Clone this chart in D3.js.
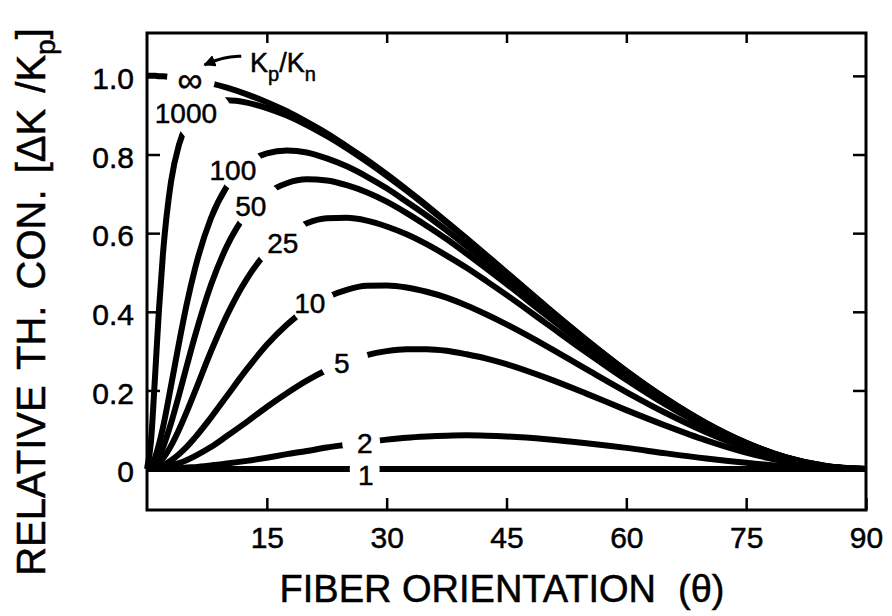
<!DOCTYPE html>
<html>
<head>
<meta charset="utf-8">
<script src="https://cdn.jsdelivr.net/npm/d3@7"></script>
<style>
  html, body { margin: 0; padding: 0; background: #fff; }
  svg { display: block; }
  text { font-family: "Liberation Sans", Arial, Helvetica, sans-serif; fill: #000; stroke: #000; stroke-width: 0.5px; }
</style>
</head>
<body>
<svg id="chart" width="892" height="616"></svg>
<script>
// Fiber orientation angles (degrees) at which each curve is sampled
const theta = [0, 0.5, 1, 1.5, 2, 3, 4, 5, 6, 8, 10, 12.5, 15, 17.5, 20, 22.5, 25, 27.5,
               30, 32.5, 35, 37.5, 40, 42.5, 45, 50, 55, 60, 65, 70, 75, 80, 85, 90];

// Relative thermal conductivity difference, one list per conductivity ratio Kp/Kn
const ratioInf  = [1.000, 1.000, 1.000, 0.999, 0.999, 0.997, 0.995, 0.992, 0.989, 0.981, 0.970, 0.953, 0.933, 0.910, 0.883, 0.854, 0.821, 0.787,
                   0.750, 0.711, 0.671, 0.629, 0.587, 0.544, 0.500, 0.413, 0.329, 0.250, 0.179, 0.117, 0.067, 0.030, 0.008, 0];
const ratio1000 = [0, 0.071, 0.233, 0.406, 0.548, 0.730, 0.825, 0.876, 0.905, 0.932, 0.938, 0.932, 0.918, 0.899, 0.875, 0.847, 0.816, 0.782,
                   0.746, 0.708, 0.668, 0.627, 0.585, 0.542, 0.499, 0.412, 0.328, 0.249, 0.178, 0.117, 0.067, 0.030, 0.008, 0];
const ratio100  = [0, 0.007, 0.029, 0.063, 0.106, 0.211, 0.320, 0.422, 0.509, 0.638, 0.719, 0.776, 0.803, 0.810, 0.805, 0.790, 0.770, 0.744,
                   0.714, 0.680, 0.645, 0.607, 0.567, 0.526, 0.485, 0.402, 0.321, 0.244, 0.175, 0.115, 0.066, 0.030, 0.007, 0];
const ratio50   = [0, 0.004, 0.014, 0.032, 0.055, 0.116, 0.188, 0.264, 0.338, 0.468, 0.567, 0.651, 0.701, 0.727, 0.737, 0.734, 0.722, 0.704,
                   0.680, 0.651, 0.619, 0.585, 0.548, 0.510, 0.471, 0.391, 0.313, 0.239, 0.171, 0.112, 0.064, 0.029, 0.007, 0];
const ratio25   = [0, 0.002, 0.007, 0.016, 0.027, 0.059, 0.100, 0.147, 0.197, 0.299, 0.391, 0.484, 0.552, 0.598, 0.625, 0.638, 0.639, 0.632,
                   0.617, 0.597, 0.572, 0.543, 0.512, 0.478, 0.443, 0.370, 0.297, 0.227, 0.163, 0.107, 0.062, 0.028, 0.007, 0];
const ratio10   = [0, 0.001, 0.002, 0.006, 0.010, 0.022, 0.038, 0.057, 0.080, 0.131, 0.186, 0.254, 0.316, 0.367, 0.408, 0.437, 0.456, 0.466,
                   0.467, 0.462, 0.451, 0.436, 0.416, 0.393, 0.368, 0.313, 0.254, 0.196, 0.142, 0.094, 0.054, 0.024, 0.006, 0];
const ratio5    = [0, 0, 0.001, 0.002, 0.004, 0.009, 0.015, 0.023, 0.033, 0.056, 0.084, 0.120, 0.158, 0.193, 0.225, 0.252, 0.274, 0.290,
                   0.300, 0.305, 0.305, 0.301, 0.292, 0.281, 0.267, 0.232, 0.192, 0.150, 0.110, 0.073, 0.042, 0.019, 0.005, 0];
const ratio2    = [0, 0, 0, 0, 0.001, 0.001, 0.002, 0.004, 0.005, 0.009, 0.014, 0.021, 0.029, 0.038, 0.046, 0.055, 0.062, 0.069,
                   0.075, 0.080, 0.083, 0.085, 0.086, 0.085, 0.083, 0.076, 0.066, 0.054, 0.040, 0.027, 0.016, 0.007, 0.002, 0];
const ratio1    = [0, 0, 0, 0, 0, 0, 0, 0, 0, 0, 0, 0, 0, 0, 0, 0, 0, 0,
                   0, 0, 0, 0, 0, 0, 0, 0, 0, 0, 0, 0, 0, 0, 0, 0];

const curveNames = ["∞", "1000", "100", "50", "25", "10", "5", "2", "1"];
const curveValues = [ratioInf, ratio1000, ratio100, ratio50, ratio25, ratio10, ratio5, ratio2, ratio1];

// Axis ticks
const xTickValues = [15, 30, 45, 60, 75, 90];
const xTickLabels = ["15", "30", "45", "60", "75", "90"];
const yTickValues = [0, 0.2, 0.4, 0.6, 0.8, 1.0];
const yTickLabels = ["0", "0.2", "0.4", "0.6", "0.8", "1.0"];

// ---- layout ----
const W = 892, H = 616;
const frame = { left: 147, right: 866, top: 33, bottom: 510 };

// Where each curve label sits (angle, value) and the break cut into the curve around it
const labelLayout = {
  "∞":    { at: [5.375, 0.992], gap: [5.5, 0.992, 24],  size: 35, baseline: "central" },
  "1000": { at: [4.875, 0.880], gap: [7.19, 0.897, 28], size: 28 },
  "100":  { at: [10.75, 0.735], gap: [11.81, 0.762, 22.5], size: 28 },
  "50":   { at: [13.0, 0.644],  gap: [13.81, 0.672, 25], size: 28 },
  "25":   { at: [17.0, 0.550],  gap: [16.94, 0.580, 28], size: 28 },
  "10":   { at: [20.375, 0.397], gap: [20.81, 0.420, 21.5], size: 28 },
  "5":    { at: [24.375, 0.244], gap: [24.69, 0.276, 24], size: 28 },
  "2":    { at: [27.25, 0.041],  gap: [26.81, 0.067, 19], size: 28 },
  "1":    { at: [27.4, -0.041], gap: [27.25, 0, 15], size: 28 }
};

const svg = d3.select("#chart");
const x = d3.scaleLinear().domain([0, 90]).range([frame.left, frame.right]);
const y = d3.scaleLinear().domain([-0.104, 1.109]).range([frame.bottom, frame.top]);

const defs = svg.append("defs");
defs.append("marker")
  .attr("id", "arrowHead")
  .attr("viewBox", "0 0 10 10")
  .attr("refX", 9).attr("refY", 5)
  .attr("markerWidth", 4).attr("markerHeight", 4)
  .attr("markerUnits", "strokeWidth")
  .attr("orient", "auto")
  .append("path").attr("d", "M0,0 L10,5 L0,10 z").attr("fill", "#000");

const series = curveNames.map((name, i) => ({ name, values: curveValues[i] }));

// one mask per curve, opening a break where its label goes
series.forEach((s, k) => {
  const g = labelLayout[s.name].gap;
  const m = defs.append("mask")
    .attr("id", "gap" + k)
    .attr("maskUnits", "userSpaceOnUse")
    .attr("x", 0).attr("y", 0).attr("width", W).attr("height", H);
  m.append("rect").attr("width", W).attr("height", H).attr("fill", "#fff");
  m.append("circle").attr("cx", x(g[0])).attr("cy", y(g[1])).attr("r", g[2]).attr("fill", "#000");
});

const line = d3.line()
  .x((d, i) => x(theta[i]))
  .y(d => y(d))
  .curve(d3.curveMonotoneX);

svg.append("g").attr("class", "curves")
  .selectAll("path")
  .data(series)
  .join("path")
  .attr("d", d => line(d.values))
  .attr("fill", "none")
  .attr("stroke", "#000")
  .attr("stroke-width", 6)
  .attr("stroke-linejoin", "round")
  .attr("mask", (d, k) => `url(#gap${k})`);

// curve labels
svg.append("g").attr("class", "curve-labels")
  .selectAll("text")
  .data(series)
  .join("text")
  .attr("x", d => x(labelLayout[d.name].at[0]))
  .attr("y", d => y(labelLayout[d.name].at[1]))
  .attr("text-anchor", "middle")
  .attr("dominant-baseline", d => labelLayout[d.name].baseline || "auto")
  .attr("font-size", d => labelLayout[d.name].size)
  .text(d => d.name);

// Kp/Kn key with its pointer to the infinity curve
const key = svg.append("text")
  .attr("x", x(12.9)).attr("y", y(1.009))
  .attr("font-size", 27);
key.append("tspan").text("K");
key.append("tspan").attr("font-size", 20).attr("dy", 9).text("p");
key.append("tspan").attr("dy", -9).text("/K");
key.append("tspan").attr("font-size", 20).attr("dy", 9).text("n");

svg.append("path")
  .attr("d", d3.line().curve(d3.curveBasis)([
    [x(11.8), y(1.050)], [x(9.6), y(1.048)], [x(7.2), y(1.028)]
  ]))
  .attr("fill", "none")
  .attr("stroke", "#000")
  .attr("stroke-width", 3)
  .attr("marker-end", "url(#arrowHead)");

// frame
svg.append("rect")
  .attr("x", frame.left).attr("y", frame.top)
  .attr("width", frame.right - frame.left).attr("height", frame.bottom - frame.top)
  .attr("fill", "none").attr("stroke", "#000").attr("stroke-width", 3);

// axes with inward ticks
function styleAxis(g) {
  g.select(".domain").remove();
  g.attr("font-family", null).attr("font-size", null);
  g.selectAll(".tick line").attr("stroke", "#000").attr("stroke-width", 2.5);
  g.selectAll(".tick text").attr("font-size", 30).attr("fill", "#000");
}

svg.append("g")
  .attr("transform", `translate(0,${frame.bottom})`)
  .call(d3.axisBottom(x).tickValues(xTickValues)
    .tickFormat((d, i) => xTickLabels[i]).tickSize(-12).tickPadding(17))
  .call(styleAxis);

svg.append("g")
  .attr("transform", `translate(0,${frame.top})`)
  .call(d3.axisTop(x).tickValues(xTickValues.slice(0, -1)).tickFormat("").tickSize(-10))
  .call(styleAxis);

svg.append("g")
  .attr("transform", `translate(${frame.left},0)`)
  .call(d3.axisLeft(y).tickValues(yTickValues)
    .tickFormat((d, i) => yTickLabels[i]).tickSize(-13).tickPadding(13))
  .call(styleAxis)
  .selectAll(".tick text").attr("dy", "0.42em");

svg.append("g")
  .attr("transform", `translate(${frame.right},0)`)
  .call(d3.axisRight(y).tickValues(yTickValues.slice(1)).tickFormat("").tickSize(-13))
  .call(styleAxis);

// axis titles
const xt = svg.append("text")
  .attr("x", 502)
  .attr("y", 602)
  .attr("text-anchor", "middle")
  .attr("font-size", 38);
xt.append("tspan").text("FIBER ORIENTATION");
xt.append("tspan").attr("dx", 22).text("(θ)");

const yt = svg.append("text")
  .attr("transform", "translate(45,302) rotate(-90)")
  .attr("text-anchor", "middle")
  .attr("font-size", 40)
  .attr("word-spacing", 5);
yt.append("tspan").text("RELATIVE TH. CON. [ΔK /K");
yt.append("tspan").attr("font-size", 28).attr("dy", 10).text("p");
yt.append("tspan").attr("dy", -10).text("]");
</script>
</body>
</html>
